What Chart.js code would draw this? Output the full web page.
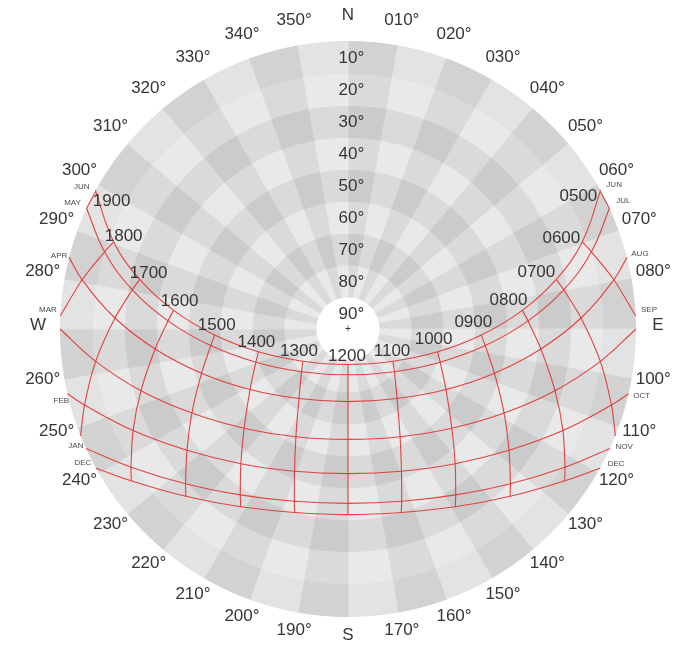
<!DOCTYPE html>
<html><head><meta charset="utf-8">
<script src="https://cdn.jsdelivr.net/npm/chart.js@4.4.1/dist/chart.umd.min.js"></script>
<style>
html,body{margin:0;padding:0;background:#fff;}
#wrap{position:relative;width:674px;height:646px;overflow:hidden;background:#fff;}
#bgBox{position:absolute;left:60px;top:41px;width:576px;height:576px;}
#fgBox{position:absolute;left:0;top:0;width:674px;height:646px;}
</style></head><body>
<div id="wrap">
  <div id="bgBox"><canvas id="bg" width="576" height="576"></canvas></div>
  <div id="fgBox"><canvas id="fg" width="674" height="646"></canvas></div>
</div>
<script>
// ---------- data ----------
const AZIMUTH_TICKS = [0,10,20,30,40,50,60,70,80,90,100,110,120,130,140,150,160,170,180,190,200,210,220,230,240,250,260,270,280,290,300,310,320,330,340,350];
const CARDINALS = {0:'N', 90:'E', 180:'S', 270:'W'};
const ALT_BANDS = [0,10,20,30,40,50,60,70];
const ALT_LABELS = ['10°','20°','30°','40°','50°','60°','70°','80°','90°'];

const HOURS = ['0500','0600','0700','0800','0900','1000','1100','1200','1300','1400','1500','1600','1700','1800','1900'];
const DATE_LINES = ['JUN','MAY/JUL','APR/AUG','MAR/SEP','FEB/OCT','JAN/NOV','DEC'];
const MORNING_MONTHS = ['JUN','JUL','AUG','SEP','OCT','NOV','DEC'];
const EVENING_MONTHS = ['JUN','MAY','APR','MAR','FEB','JAN','DEC'];

// sunrise / sunset azimuths (deg) of each date line
const SUNRISE_AZ = [61.1, 65.2, 75.6, 90.0, 103.0, 114.5, 118.9];
const SUNSET_AZ  = [298.9, 294.8, 284.4, 270.0, 257.0, 245.5, 241.1];

// azimuth / altitude at each hour 0500..1900 (null = below horizon)
const AZ_JUN     = [61.4, 69.6, 76.6, 83.9, 92.6, 104.3, 125.6, 180, 234.4, 255.7, 267.4, 276.1, 283.4, 290.4, 298.6];
const ALT_JUN    = [0.2, 11.9, 23.1, 35.2, 48.3, 61.1, 72.7, 78.9, 72.7, 61.1, 48.3, 35.2, 23.1, 11.9, 0.2];
const AZ_MAYJUL  = [null, 72.4, 79.7, 87.4, 96.9, 109.8, 132.6, 180, 227.4, 250.2, 263.1, 272.6, 280.3, 287.6, null];
const ALT_MAYJUL = [null, 10.2, 21.5, 33.7, 46.8, 59.4, 70.3, 75.7, 70.3, 59.4, 46.8, 33.7, 21.5, 10.2, null];
const AZ_APRAUG  = [null, 79.5, 87.3, 95.9, 106.8, 121.7, 144.8, 180, 215.2, 238.3, 253.2, 264.1, 272.7, 280.5, null];
const ALT_APRAUG = [null, 5.5, 17.1, 29.4, 42.2, 54.0, 63.4, 67.3, 63.4, 54.0, 42.2, 29.4, 17.1, 5.5, null];
const AZ_MARSEP  = [null, null, 97.3, 106.6, 118.3, 133.7, 154.2, 180, 205.8, 226.3, 241.7, 253.4, 262.7, null, null];
const ALT_MARSEP = [null, null, 10.5, 22.5, 34.6, 45.1, 52.6, 55.5, 52.6, 45.1, 34.6, 22.5, 10.5, null, null];
const AZ_FEBOCT  = [null, null, 106.1, 115.3, 127.0, 141.5, 159.4, 180, 200.6, 218.5, 233.0, 244.7, 253.9, null, null];
const ALT_FEBOCT = [null, null, 4.3, 15.7, 27.0, 36.2, 42.5, 44.8, 42.5, 36.2, 27.0, 15.7, 4.3, null, null];
const AZ_JANNOV  = [null, null, null, 122.5, 133.6, 147.0, 162.7, 180, 197.3, 213.0, 226.4, 237.5, null, null, null];
const ALT_JANNOV = [null, null, null, 9.6, 19.9, 28.2, 33.6, 35.5, 33.6, 28.2, 19.9, 9.6, null, null, null];
const AZ_DEC     = [null, null, null, 125.0, 135.9, 148.9, 163.8, 180, 196.2, 211.1, 224.1, 235.0, null, null, null];
const ALT_DEC    = [null, null, null, 7.3, 17.2, 25.1, 30.3, 32.0, 30.3, 25.1, 17.2, 7.3, null, null, null];

// where the early / late hour lines meet the horizon (azimuth, deg)
const HOUR_HORIZON_AZ = [65.3, 87.4, 111.8, null, null, null, null, null, null, null, null, null, 248.2, 272.6, 294.7];

// ---------- helpers ----------
const SUN_AZ  = [AZ_JUN, AZ_MAYJUL, AZ_APRAUG, AZ_MARSEP, AZ_FEBOCT, AZ_JANNOV, AZ_DEC];
const SUN_ALT = [ALT_JUN, ALT_MAYJUL, ALT_APRAUG, ALT_MARSEP, ALT_FEBOCT, ALT_JANNOV, ALT_DEC];
function proj(az, alt){
  const r = 90 - alt, a = az * Math.PI / 180;
  return {x: r * Math.sin(a), y: r * Math.cos(a)};
}
const FONT = '"Liberation Sans", Arial, sans-serif';
const TEXT = '#363636';
const LINE = 'rgba(228,52,52,0.92)';

// ---------- background: checkered sky dome (doughnut) ----------
const C_DARK = '#cbcbcb', C_MID = '#dadada', C_LIGHT = '#e9e9e9';
function cellColor(ring, sector){
  const rd = ring % 2 === 0, sd = sector % 2 === 0;
  if (ring === 0) return sd ? '#d2d2d2' : '#e3e3e3';
  if (rd && sd) return C_DARK;
  if (rd || sd) return C_MID;
  return C_LIGHT;
}
const SECTOR_LABELS = AZIMUTH_TICKS.map(a => a + '°–' + (a + 10) + '°');
const SECTOR_SPAN = AZIMUTH_TICKS.map(() => 10);
new Chart(document.getElementById('bg'), {
  type: 'doughnut',
  data: {
    labels: SECTOR_LABELS,
    datasets: ALT_BANDS.map((lo, k) => {
      const cols = AZIMUTH_TICKS.map((a, i) => cellColor(k, i));
      return {label: 'alt ' + lo + '–' + (lo + 10), data: SECTOR_SPAN,
        backgroundColor: cols, borderColor: cols, borderWidth: 1, hoverOffset: 0};
    })
  },
  options: {
    responsive: false, animation: false, events: [],
    cutout: 32, rotation: 0,
    layout: {padding: 0},
    plugins: {legend: {display: false}, tooltip: {enabled: false}}
  }
});

// ---------- foreground: sun path lines ----------
const datasets = [];
DATE_LINES.forEach((name, d) => {
  const pts = [proj(SUNRISE_AZ[d], 0)];
  HOURS.forEach((h, i) => { if (SUN_AZ[d][i] !== null) pts.push(proj(SUN_AZ[d][i], SUN_ALT[d][i])); });
  pts.push(proj(SUNSET_AZ[d], 0));
  datasets.push({label: name, data: pts, showLine: true, pointRadius: 0, borderColor: LINE, borderWidth: 1.1, tension: 0.4, fill: false});
});
HOURS.forEach((h, i) => {
  const pts = [];
  SUN_AZ.forEach((arr, d) => { if (arr[i] !== null) pts.push(proj(arr[i], SUN_ALT[d][i])); });
  if (HOUR_HORIZON_AZ[i] !== null) pts.push(proj(HOUR_HORIZON_AZ[i], 0));
  datasets.push({label: h, data: pts, showLine: true, pointRadius: 0, borderColor: LINE, borderWidth: 1.1, tension: 0.3, fill: false});
});

const PXU = 3.2, CX = 348, CY = 329, W = 674, H = 646;

// label styling (offsets in px from anchor)
const HOUR_LABEL_STYLE = [
  ['right',-3,5],['right',-2,-4],['right',-1,-7],['right',5,-10],['center',-8,-13],['center',-4,-13],['center',-1,-10],
  ['center',-1,-8],['center',-4,-10],['center',-2,-10],['center',2,-10],['center',6,-9],['left',-10,-6],['left',-9,-6],['left',-3,10]];
const MORNING_OFF = [[14,-5],[14,-7],[13,-4],[13,-19],[13,2],[14,-2],[16,-4]];
const EVENING_OFF = [[-14,-3],[-14,-5],[-10,-2],[-12,-19],[-6,7],[-10,-3],[-13,-5]];

const labelPlugin = {
  id: 'sunLabels',
  afterDatasetsDraw(chart){
    const ctx = chart.ctx, xs = chart.scales.x, ys = chart.scales.y;
    const P = (p) => ({x: xs.getPixelForValue(p.x), y: ys.getPixelForValue(p.y)});
    ctx.save();
    ctx.fillStyle = TEXT;
    ctx.textBaseline = 'middle';
    // compass ring
    ctx.font = '17px ' + FONT;
    ctx.textAlign = 'center';
    AZIMUTH_TICKS.forEach(a => {
      const p = P(proj(a, 90 - 310 / PXU));
      const t = CARDINALS[a] !== undefined ? CARDINALS[a] : String(a).padStart(3, '0') + '°';
      ctx.fillText(t, p.x, p.y - 3.5);
    });
    // altitude labels
    ALT_LABELS.forEach((t, k) => {
      const p = P(proj(0, 5 + 10 * k));
      const num = t.replace('°', '');
      const wNum = ctx.measureText(num).width;
      ctx.textAlign = 'left';
      ctx.fillText(t, p.x - wNum / 2, p.y + 1);
    });
    ctx.font = '10px ' + FONT;
    ctx.textAlign = 'center';
    const c = P({x: 0, y: 0});
    ctx.fillText('+', c.x, c.y);
    // hour labels anchored on the June line
    ctx.font = '17px ' + FONT;
    HOURS.forEach((h, i) => {
      const p = P(proj(AZ_JUN[i], ALT_JUN[i]));
      const st = HOUR_LABEL_STYLE[i];
      ctx.textAlign = st[0];
      ctx.fillText(h, p.x + st[1], p.y + st[2]);
    });
    // month labels at sunrise / sunset ends
    ctx.font = '8px ' + FONT;
    ctx.fillStyle = '#4a4a4a';
    ctx.textAlign = 'center';
    MORNING_MONTHS.forEach((m, d) => {
      const p = P(proj(SUNRISE_AZ[d], 0));
      ctx.fillText(m, p.x + MORNING_OFF[d][0], p.y + MORNING_OFF[d][1]);
    });
    EVENING_MONTHS.forEach((m, d) => {
      const p = P(proj(SUNSET_AZ[d], 0));
      ctx.fillText(m, p.x + EVENING_OFF[d][0], p.y + EVENING_OFF[d][1]);
    });
    ctx.restore();
  }
};

new Chart(document.getElementById('fg'), {
  type: 'scatter',
  data: {datasets},
  options: {
    responsive: false, animation: false, events: [],
    layout: {padding: 0},
    scales: {
      x: {type: 'linear', display: false, min: -CX / PXU, max: (W - CX) / PXU},
      y: {type: 'linear', display: false, min: -(H - CY) / PXU, max: CY / PXU}
    },
    plugins: {legend: {display: false}, tooltip: {enabled: false}}
  },
  plugins: [labelPlugin]
});
</script>
</body></html>
